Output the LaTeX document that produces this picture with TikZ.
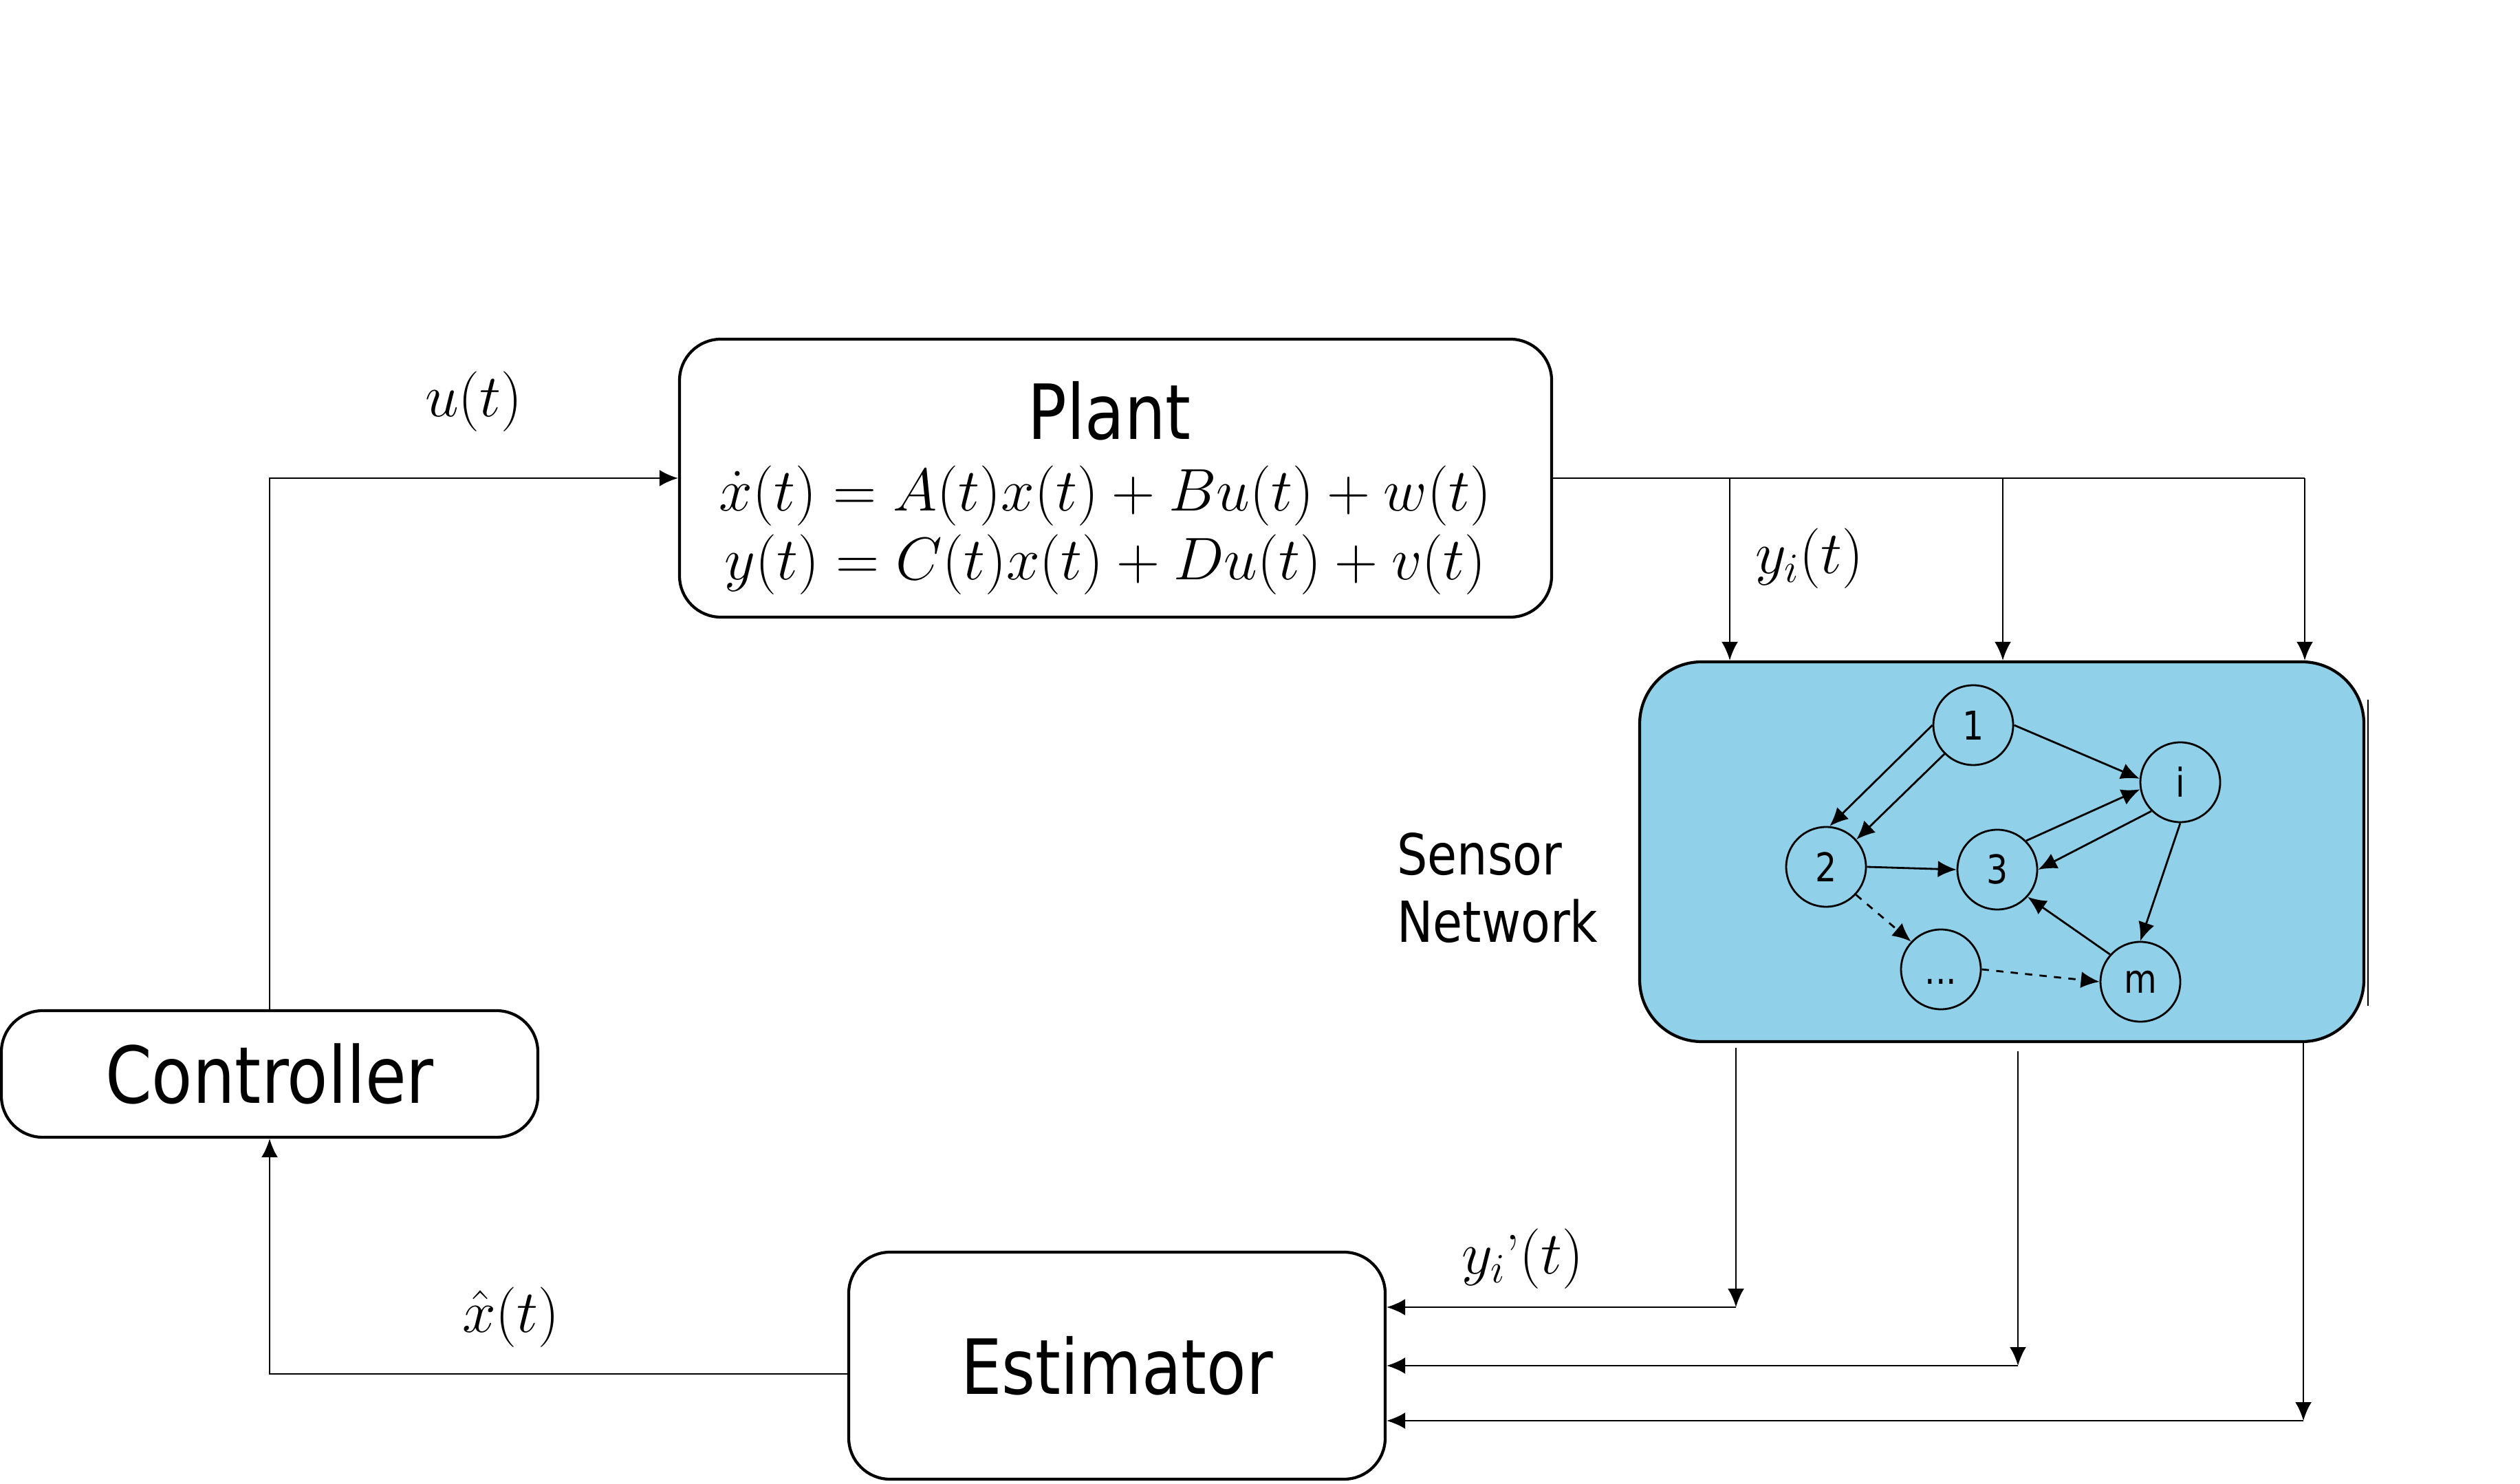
\documentclass[tikz,border=0pt]{standalone}
\usepackage{fontspec}
\usepackage{xcolor}
\usepackage{tikz}
\usetikzlibrary{arrows.meta}
\usetikzlibrary{shapes,arrows,positioning}
\newfontfamily\blockfont{DejaVu Sans}[FakeStretch=0.85]
\definecolor{netblue}{RGB}{144,209,233}
\tikzset{>={Latex[length=2.7mm,width=2.4mm]}}
\tikzset{
  block/.style={draw, line width=1.2pt, rounded corners=0.6cm, inner sep=0pt, font=\blockfont\fontsize{31.5}{36}\selectfont},
  sensor/.style={draw, circle, fill=netblue, minimum size=1.16cm, inner sep=0pt, font=\blockfont\fontsize{16.4}{19}\selectfont},
  signal/.style={font=\fontsize{23}{27}\selectfont},
  equation/.style={anchor=base, font=\fontsize{24}{28}\selectfont},
}

\begin{document}
\begin{tikzpicture}[thick]
            \useasboundingbox (0,0) rectangle (36.64,21.56);
            \node[block, minimum width=12.68cm, minimum height=4.04cm] (plant) at (16.22,14.61) {};
            \node[anchor=base, font=\blockfont\fontsize{31.5}{36}\selectfont] (plant-title) at (16.13,15.17) {Plant};
            \node[equation] (state-eq) at (16.07,14.13) {$\dot{x}(t) = A(t)x(t) + Bu(t) + w(t)$};
            \node[equation] (output-eq) at (16.07,13.13) {$y(t) = C(t)x(t) + Du(t) + v(t)$};
            \node[block, minimum width=7.80cm, minimum height=1.84cm, font=\blockfont\fontsize{32.5}{37}\selectfont] (controller) at (3.92,5.95) {Controller};
            \node[block, minimum width=7.80cm, minimum height=3.30cm] (estimator) at (16.24,1.71) {Estimator};
            \node[draw, line width=1.2pt, rounded corners=0.9cm, fill=netblue, minimum width=10.53cm, minimum height=5.52cm] (sensor-network) at (29.105,9.18) {};
            \draw[thin] ([xshift=0.04cm, yshift=-0.57cm]sensor-network.north east) -- ([xshift=0.04cm, yshift=0.54cm]sensor-network.south east);
            \node[anchor=west, align=left, inner sep=0pt, font=\blockfont\fontsize{23.4}{27.9}\selectfont] (network-label) at (20.30,8.65) {Sensor\\Network};
            \node[sensor] (node-1) at (28.69,11.02) {1};
            \node[sensor] (node-i) at (31.70,10.19) {i};
            \node[sensor] (node-2) at (26.55,8.96) {2};
            \node[sensor] (node-3) at (29.04,8.92) {3};
            \node[sensor] (node-dots) at (28.22,7.47) {\vphantom{1}...};
            \node[sensor] (node-m) at (31.12,7.29) {m};
            \draw[->] (node-1.180) -- (node-2.85);
            \draw[->] (node-1.225) -- (node-2.42);
            \draw[->] (node-1.east) -- (node-i.175);
            \draw[->] (node-3.45) -- (node-i.190);
            \draw[->] (node-i.225) -- (node-3.east);
            \draw[->] (node-i.south) -- (node-m.north);
            \draw[->] (node-m.138) -- (node-3.318);
            \draw[->] (node-2.east) -- (node-3.west);
            \draw[->, dashed] (node-2.317) -- (node-dots.137);
            \draw[->, dashed] (node-dots.east) -- (node-m.west);
            \coordinate (bus-1) at (25.15,14.61);
            \coordinate (bus-2) at (29.12,14.61);
            \coordinate (bus-3) at (33.51,14.61);
            \coordinate (out-1) at (25.24,6.33);
            \coordinate (out-2) at (29.34,6.28);
            \coordinate (out-3) at (33.49,6.42);
            \coordinate (corner-1) at (25.24,2.56);
            \coordinate (corner-2) at (29.34,1.71);
            \coordinate (corner-3) at (33.49,0.91);
            \draw[->] (controller.north) |- (plant.west) node[signal, pos=0.75, above=0.55cm] (input-label) {$u(t)$};
            \draw[-] (plant.east) -- (bus-3);
            \foreach \b in {bus-1,bus-2,bus-3}
                \draw[->] (\b) -- (\b |- sensor-network.north);
            \node[signal] (measure-label) at (26.31,13.44) {$y_i(t)$};
            \foreach \i in {1,2,3} {
                \draw[->] (out-\i) -- (corner-\i);
                \draw[->] (corner-\i) -- (estimator.east |- corner-\i);
            }
            \node[signal] (received-label) at (22.14,3.26) {$y_i$’$(t)$};
            \draw[->] ([yshift=-0.12cm]estimator.west) -| (controller.south);
            \node[signal] (estimate-label) at (7.43,2.41) {$\hat{x}(t)$};
        \end{tikzpicture}
\end{document}
